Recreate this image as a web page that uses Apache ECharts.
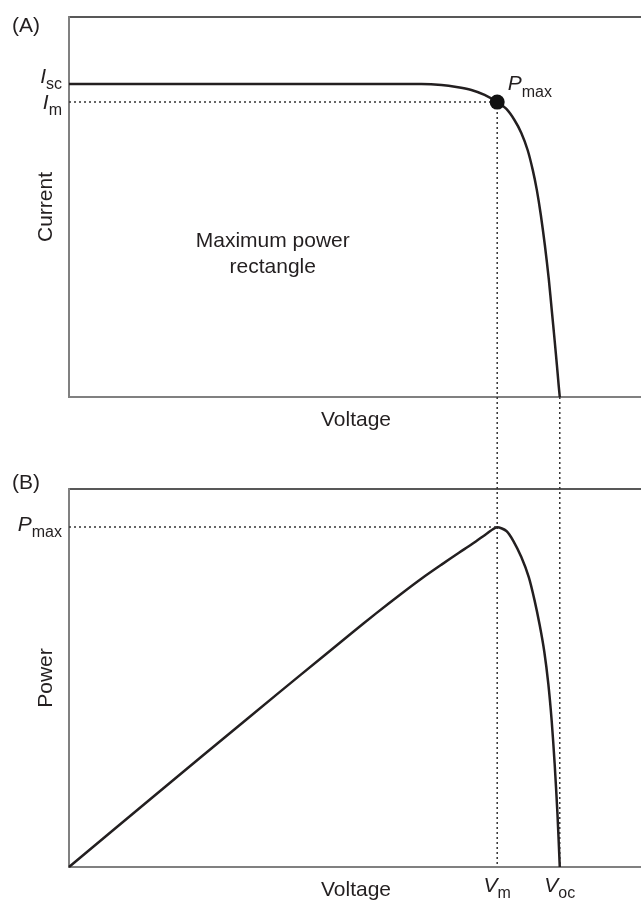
<!DOCTYPE html>
<html>
<head>
<meta charset="utf-8">
<script src="https://cdn.jsdelivr.net/npm/echarts@6/dist/echarts.min.js"></script>
<style>
  html, body { margin: 0; padding: 0; background: #fff; }
  #main { width: 641px; height: 902px; }
</style>
</head>
<body>
<div id="main"></div>
<script>
// (A) current-voltage curve (axis 0..100)
const voltA = [0, 40.4, 61.4, 64.9, 67.5, 70.1, 72.4, 74.6, 76.2, 77.6, 78.8, 79.9, 80.8, 81.5, 82.2, 82.9, 83.6, 84.1, 84.6, 85.0, 85.3, 85.5];
const currentA = [82.4, 82.4, 82.35, 82.1, 81.6, 80.8, 79.5, 77.6, 75.8, 72.9, 69.5, 65.0, 59.7, 54.5, 47.9, 40.0, 30.8, 22.9, 15.0, 8.4, 3.2, 0];
// (B) power-voltage curve
const voltB = [0, 14.2, 31.6, 40.4, 49.1, 53.5, 57.9, 61.5, 64.9, 68.0, 70.1, 72.7, 74.6, 76.2, 77.4, 78.8, 80.1, 81.1, 82.0, 82.8, 83.5, 84.1, 84.6, 85.1, 85.5];
const powerB = [0, 18.0, 39.9, 50.9, 61.7, 67.1, 72.3, 76.4, 80.0, 83.2, 85.3, 88.1, 89.9, 88.9, 86.3, 82.0, 76.7, 70.6, 64.0, 57.0, 48.5, 38.5, 27.5, 14.0, 0];
// special points
const Isc = 82.4, Im = 77.6, Vm = 74.6, Voc = 85.5, Pmax = 89.9;

const ink = '#231f20';
const font = 'Liberation Sans, Arial, sans-serif';

const chart = echarts.init(document.getElementById('main'), null, { renderer: 'canvas' });

const baseX = {
  type: 'value', min: 0, max: 100,
  axisLine: { show: true, onZero: false, lineStyle: { color: '#808080', width: 2 } },
  axisTick: { show: false }, splitLine: { show: false },
  nameLocation: 'middle', nameGap: 13, nameMoveOverlap: false,
  nameTextStyle: { color: ink, fontSize: 21, fontFamily: font }
};
const baseY = {
  type: 'value', min: 0, max: 100,
  axisLine: { show: true, onZero: false, lineStyle: { color: '#808080', width: 2 } },
  axisTick: { show: false }, splitLine: { show: false },
  nameLocation: 'middle', nameGap: 12, nameMoveOverlap: false,
  nameTextStyle: { color: ink, fontSize: 21, fontFamily: font }
};
const dotted = { color: '#333', width: 1.5, type: [2, 3] };
const sub = (main, s) => '{a|' + main + '}{s|' + s + '}';
const richTxt = {
  a: { fontStyle: 'italic', fontSize: 21, verticalAlign: 'bottom', padding: [0, 0, 5, 0], color: ink, fontFamily: font },
  s: { fontSize: 16, verticalAlign: 'bottom', color: ink, fontFamily: font }
};

chart.setOption({
  animation: false,
  grid: [
    { left: 69, top: 17, right: -2, height: 380, outerBoundsMode: 'none', show: true, borderColor: '#222', borderWidth: 1.5 },
    { left: 69, top: 489, right: -2, height: 378, outerBoundsMode: 'none', show: true, borderColor: '#222', borderWidth: 1.5 }
  ],
  xAxis: [
    Object.assign({}, baseX, { gridIndex: 0, name: 'Voltage', axisLabel: { show: false } }),
    Object.assign({}, baseX, {
      gridIndex: 1, name: 'Voltage',
      axisLabel: {
        show: true, customValues: [Vm, Voc], margin: 9, hideOverlap: false,
        formatter: v => v === Vm ? sub('V', 'm') : sub('V', 'oc'),
        rich: richTxt
      }
    })
  ],
  yAxis: [
    Object.assign({}, baseY, {
      gridIndex: 0, name: 'Current',
      axisLabel: {
        show: true, customValues: [Im], margin: 7, hideOverlap: false, padding: [7, 0, 0, 0],
        formatter: () => sub('I', 'm'),
        rich: richTxt
      }
    }),
    Object.assign({}, baseY, {
      gridIndex: 1, name: 'Power',
      axisLabel: {
        show: true, customValues: [Pmax], margin: 7, hideOverlap: false,
        formatter: () => sub('P', 'max'),
        rich: richTxt
      }
    }),
    // second left axis in panel A carrying only the Isc label
    Object.assign({}, baseY, {
      gridIndex: 0, position: 'left', axisLine: { show: false },
      axisLabel: {
        show: true, customValues: [Isc], margin: 7, hideOverlap: false, padding: [0, 0, 9, 0],
        formatter: () => sub('I', 'sc'),
        rich: richTxt
      }
    })
  ],
  series: [
    {
      type: 'line', xAxisIndex: 0, yAxisIndex: 0, smooth: 0.25, symbol: 'none',
      lineStyle: { color: ink, width: 2.5 },
      data: voltA.map((v, i) => [v, currentA[i]]),
      markLine: {
        silent: true, symbol: 'none', label: { show: false }, lineStyle: dotted,
        data: [[{ coord: [0, Im] }, { coord: [Vm, Im] }]]
      }
    },
    {
      type: 'scatter', xAxisIndex: 0, yAxisIndex: 0, symbolSize: 15,
      itemStyle: { color: '#111', opacity: 1 },
      data: [[Vm, Im]],
      label: {
        show: true, position: 'right', distance: 3, offset: [0, -15],
        formatter: () => sub('P', 'max'), rich: richTxt
      },
      z: 5
    },
    {
      type: 'line', xAxisIndex: 1, yAxisIndex: 1, smooth: 0.25, symbol: 'none',
      lineStyle: { color: ink, width: 2.5 },
      data: voltB.map((v, i) => [v, powerB[i]]),
      markLine: {
        silent: true, symbol: 'none', label: { show: false }, lineStyle: dotted,
        data: [[{ coord: [0, Pmax] }, { coord: [Vm, Pmax] }]]
      }
    }
  ]
});

// vertical guide lines that cross both panels, placed through the axes' own scales
const pTop = chart.convertToPixel({ xAxisIndex: 0, yAxisIndex: 0 }, [Vm, Im]);
const pBot = chart.convertToPixel({ xAxisIndex: 1, yAxisIndex: 1 }, [Vm, 0]);
const vTop = chart.convertToPixel({ xAxisIndex: 0, yAxisIndex: 0 }, [Voc, 0]);
const vBot = chart.convertToPixel({ xAxisIndex: 1, yAxisIndex: 1 }, [Voc, 0]);
const txt = chart.convertToPixel({ xAxisIndex: 0, yAxisIndex: 0 }, [35.5, 37.6]);

chart.setOption({
  graphic: [
    { type: 'line', silent: true, z: 1, shape: { x1: pTop[0], y1: pTop[1], x2: pBot[0], y2: pBot[1] }, style: { stroke: '#333', lineWidth: 1.5, lineDash: [2, 3] } },
    { type: 'line', silent: true, z: 1, shape: { x1: vTop[0], y1: vTop[1], x2: vBot[0], y2: vBot[1] }, style: { stroke: '#333', lineWidth: 1.5, lineDash: [2, 3] } },
    { type: 'text', silent: true, x: txt[0], y: txt[1], style: { text: 'Maximum power\nrectangle', fill: ink, font: '21px ' + font, align: 'center', verticalAlign: 'middle', lineHeight: 26 } },
    { type: 'text', silent: true, left: 12, top: 16, style: { text: '(A)', fill: ink, font: '21px ' + font } },
    { type: 'text', silent: true, left: 12, top: 473, style: { text: '(B)', fill: ink, font: '21px ' + font } }
  ]
});
</script>
</body>
</html>
